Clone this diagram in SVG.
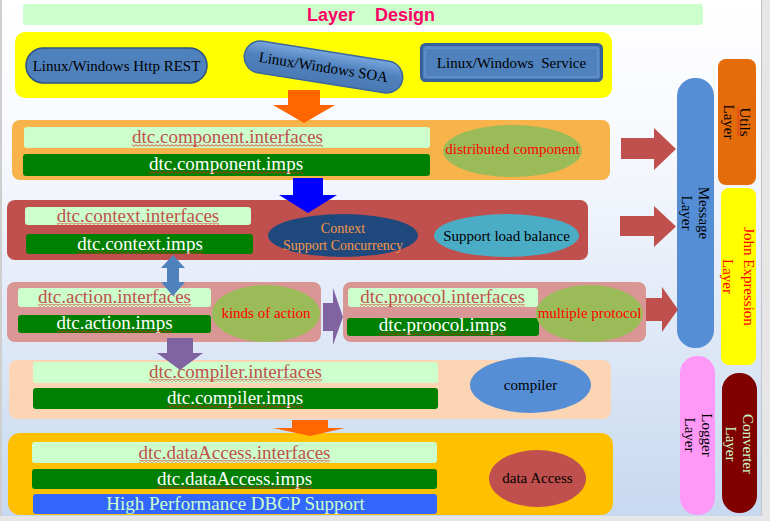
<svg xmlns="http://www.w3.org/2000/svg" width="770" height="521" viewBox="0 0 770 521">
<defs>
<linearGradient id="bg" x1="0" y1="0" x2="0" y2="1">
<stop offset="0" stop-color="#ffffff"/>
<stop offset="0.3" stop-color="#f6f8fd"/>
<stop offset="1" stop-color="#c6d8f0"/>
</linearGradient>
<linearGradient id="pill" x1="0" y1="0" x2="0" y2="1">
<stop offset="0" stop-color="#7aa6dc"/>
<stop offset="0.45" stop-color="#4f81bd"/>
<stop offset="1" stop-color="#4a7ab6"/>
</linearGradient>
<pattern id="squig" width="4" height="3" patternUnits="userSpaceOnUse">
<path d="M0 0.6 L2 2.4 L4 0.6" fill="none" stroke="#e02020" stroke-width="0.8"/>
</pattern>
<style>
text{font-family:"Liberation Serif","Times New Roman",serif;}
.title{font-family:"Liberation Sans",Arial,sans-serif;font-weight:bold;font-size:18px;fill:#ff0066;text-anchor:middle;}
.if{fill:#ccffcc;}
.im{fill:#008000;}
.ift{font-size:19px;fill:#c0504d;text-anchor:middle;}
.imt{font-size:19px;fill:#ffffff;text-anchor:middle;}
.lbl{font-size:15px;text-anchor:middle;fill:#000000;}
.red{fill:#ff0000;}
.sq{fill:url(#squig);}
.ra{fill:#c0504d;}
.pa{fill:#8064a2;}
.oa{fill:#ff6600;}
</style>
</defs>

<!-- background -->
<rect x="0" y="0" width="770" height="521" fill="url(#bg)"/>
<rect x="761" y="0" width="9" height="521" fill="#e6e6e6"/>
<line x1="761.5" y1="0" x2="761.5" y2="516" stroke="#c4c4c4"/>
<rect x="0" y="516" width="770" height="5" fill="#e6e6e6"/>
<line x1="1" y1="0" x2="1" y2="516" stroke="#cfcfcf" stroke-width="2"/>

<g id="title">
<rect x="23" y="4" width="680" height="21" rx="3" fill="#ccffcc"/>
<text class="title" x="371" y="21" xml:space="preserve">Layer    Design</text>
</g>

<g id="access-layer">
<rect x="15" y="32" width="597" height="66" rx="10" fill="#ffff00"/>
</g>
<g id="rest">
<rect x="26" y="48" width="181" height="35" rx="17.5" fill="#4f81bd" stroke="#2f5180" stroke-width="1.5"/>
<text class="lbl" x="116.5" y="71">Linux/Windows Http REST</text>
</g>
<g id="soa" transform="translate(323.5,67) rotate(9)">
<rect x="-80" y="-16" width="160" height="32" rx="16" fill="url(#pill)" stroke="#3a669f" stroke-width="1.5"/>
<text class="lbl" x="0" y="5" font-size="14">Linux/Windows SOA</text>
</g>
<g id="service">
<rect x="421.5" y="44.5" width="180" height="36" rx="4" fill="#4f81bd" stroke="#35609a" stroke-width="3"/>
<rect x="425" y="48" width="173" height="29" rx="2" fill="none" stroke="#6f9ad0" stroke-width="1"/>
<text class="lbl" x="511.5" y="68" xml:space="preserve">Linux/Windows  Service</text>
</g>

<g id="component">
<rect x="12" y="120" width="598" height="60" rx="8" fill="#f8b34a"/>
<rect class="if" x="24" y="127" width="406" height="21" rx="3"/>
<text class="ift" x="227.5" y="143">dtc.component.interfaces</text>
<rect class="sq" x="132" y="144" width="191" height="3"/>
<rect class="im" x="23" y="154" width="407" height="22" rx="3"/>
<text class="imt" x="226" y="170">dtc.component.imps</text>
<rect class="sq" x="149" y="171" width="154" height="3"/>
<ellipse cx="512.5" cy="151" rx="69.5" ry="26" fill="#9bbb59"/>
<text class="lbl red" x="512.5" y="154">distributed component</text>
</g>

<g id="context">
<rect x="7" y="200" width="581" height="60" rx="8" fill="#c0504d"/>
<rect class="if" x="25" y="207" width="226" height="18" rx="3"/>
<text class="ift" x="138" y="222">dtc.context.interfaces</text>
<rect class="sq" x="57" y="223" width="162" height="3"/>
<rect class="im" x="26" y="234" width="227" height="20" rx="3"/>
<text class="imt" x="140" y="250">dtc.context.imps</text>
<rect class="sq" x="77" y="251" width="126" height="3"/>
<ellipse cx="343" cy="235.5" rx="75" ry="21.5" fill="#1f497d"/>
<text x="343" y="233" font-size="14" fill="#f79646" text-anchor="middle">Context</text>
<text x="343" y="250" font-size="14" fill="#f79646" text-anchor="middle">Support Concurrency</text>
<ellipse cx="506.5" cy="235.5" rx="72.5" ry="21.5" fill="#4bacc6"/>
<text class="lbl" x="506.5" y="241">Support load balance</text>
</g>

<g id="action">
<rect x="7" y="282" width="314" height="60" rx="8" fill="#d99694"/>
<rect class="if" x="18" y="288" width="193" height="19" rx="3"/>
<text class="ift" x="114.5" y="303">dtc.action.interfaces</text>
<rect class="sq" x="38" y="304" width="153" height="3"/>
<rect class="im" x="18" y="315" width="193" height="18" rx="3"/>
<text class="imt" x="114.5" y="329">dtc.action.imps</text>
<rect class="sq" x="57" y="330" width="115" height="3"/>
<ellipse cx="266" cy="313.5" rx="54" ry="28.5" fill="#9bbb59"/>
<text class="lbl red" x="266" y="318">kinds of action</text>
</g>

<g id="protocol">
<rect x="343" y="282" width="303" height="60" rx="8" fill="#d99694"/>
<rect class="if" x="348" y="288" width="190" height="19" rx="3"/>
<text class="ift" x="442.5" y="303">dtc.proocol.interfaces</text>
<rect class="sq" x="360" y="304" width="165" height="3"/>
<rect class="im" x="347" y="318" width="192" height="18" rx="3"/>
<text class="imt" x="442.5" y="331">dtc.proocol.imps</text>
<rect class="sq" x="379" y="332" width="127" height="3"/>
<ellipse cx="589.5" cy="313.5" rx="53.5" ry="28.5" fill="#9bbb59"/>
<text class="lbl red" x="589.5" y="318">multiple protocol</text>
</g>

<g id="compiler">
<rect x="9" y="360" width="602" height="59" rx="8" fill="#fcd5b5"/>
<rect class="if" x="33" y="362" width="405" height="21" rx="3"/>
<text class="ift" x="235.5" y="378">dtc.compiler.interfaces</text>
<rect class="sq" x="149" y="379" width="173" height="3"/>
<rect class="im" x="33" y="388" width="405" height="21" rx="3"/>
<text class="imt" x="235" y="404">dtc.compiler.imps</text>
<rect class="sq" x="167" y="405" width="136" height="3"/>
<ellipse cx="530.5" cy="385" rx="60.5" ry="28" fill="#558ed5"/>
<text class="lbl" x="530.5" y="390">compiler</text>
</g>

<g id="dataAccess">
<rect x="8" y="433" width="605" height="82" rx="12" fill="#ffc000"/>
<rect class="if" x="32" y="442" width="405" height="21" rx="3"/>
<text class="ift" x="234.5" y="459">dtc.dataAccess.interfaces</text>
<rect class="sq" x="139" y="460" width="191" height="3"/>
<rect class="im" x="32" y="469" width="405" height="20" rx="3"/>
<text class="imt" x="234.5" y="485">dtc.dataAccess.imps</text>
<rect class="sq" x="157" y="486" width="155" height="3"/>
<rect x="33" y="494" width="404" height="20" rx="3" fill="#3366ff"/>
<text x="235.5" y="510" font-size="19" fill="#ccffcc" text-anchor="middle">High Performance DBCP Support</text>
<ellipse cx="537.5" cy="478.5" rx="48.5" ry="28.5" fill="#c0504d"/>
<text class="lbl" x="537.5" y="483">data Access</text>
</g>

<g id="message">
<rect x="677" y="78" width="37" height="270" rx="18" fill="#558ed5"/>
<text class="lbl" transform="translate(699,213) rotate(90)"><tspan x="0" y="0">Message</tspan><tspan x="0" y="17">Layer</tspan></text>
</g>
<g id="utils">
<rect x="718" y="59" width="38" height="126" rx="8" fill="#e46c0a"/>
<g transform="translate(740,122) rotate(90)">
<text class="lbl"><tspan x="0" y="0">Utils</tspan><tspan x="0" y="16">Layer</tspan></text>
<rect class="sq" x="-14.5" y="0.5" width="29" height="3"/>
</g>
</g>
<g id="john">
<rect x="721" y="188" width="35" height="177" rx="8" fill="#ffff00"/>
<text class="lbl red" transform="translate(744,276.5) rotate(90)"><tspan x="0" y="0">John Expression</tspan><tspan x="0" y="21">Layer</tspan></text>
</g>
<g id="logger">
<rect x="680" y="356" width="35" height="159" rx="17" fill="#ff99f8"/>
<text class="lbl" transform="translate(702,435) rotate(90)"><tspan x="0" y="0">Logger</tspan><tspan x="0" y="17">Layer</tspan></text>
</g>
<g id="converter">
<rect x="722" y="373" width="35" height="140" rx="17" fill="#800000"/>
<text class="lbl" fill="#ccffcc" style="fill:#ccffcc" transform="translate(743,444) rotate(90)"><tspan x="0" y="0">Converter</tspan><tspan x="0" y="17">Layer</tspan></text>
</g>

<g id="connectors">
<path class="oa" d="M288 90 H320 V105 H335 L304 123 L273 105 H288 Z"/>
<path fill="#0000ff" d="M293 178 H323 V195 H337 L308 213 L279 195 H293 Z"/>
<path class="ra" d="M621 138 H654 V128 L676 149 L654 170 V159 H621 Z"/>
<path class="ra" d="M620 216 H654 V206 L676 226.5 L654 247 V236 H620 Z"/>
<path class="ra" d="M646 298 H662 V287 L678 309.5 L662 332 V321 H646 Z"/>
<path fill="#4f81bd" d="M173 255 L185 268 H179 V282 H185 L173 296 L161 282 H167 V268 H161 Z"/>
<path class="pa" d="M323 303 H333 V288 L343 317 L333 345 V331 H323 Z"/>
<path class="pa" d="M167 338 H193 V353 H203 L180 370 L157 353 H167 Z"/>
<path class="oa" d="M292 420 H328 V428 H345 L310 436 L273 428 H292 Z"/>
</g>
</svg>
